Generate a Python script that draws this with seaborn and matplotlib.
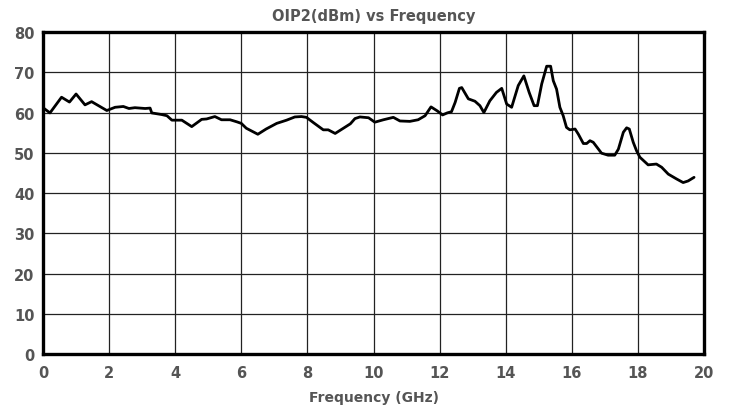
import matplotlib
matplotlib.use("Agg")
import matplotlib.pyplot as plt
import pandas as pd
import seaborn as sns

# Frequency points (GHz)
freq_ghz = [0.0, 0.21, 0.56, 0.80, 1.00, 1.27, 1.47, 1.93, 2.18, 2.43, 2.60, 2.78,
            3.09, 3.24, 3.29, 3.59, 3.75, 3.90, 4.20, 4.50, 4.80, 4.95, 5.20, 5.40,
            5.66, 5.86, 6.00, 6.15, 6.50, 6.75, 7.07, 7.37, 7.62, 7.82, 7.97, 8.18,
            8.48, 8.63, 8.84, 9.09, 9.30, 9.44, 9.59, 9.85, 10.04, 10.30, 10.60, 10.80,
            11.10, 11.35, 11.56, 11.74, 11.93, 12.09, 12.23, 12.36, 12.47, 12.60, 12.67,
            12.87, 13.07, 13.22, 13.34, 13.52, 13.72, 13.88, 14.03, 14.18, 14.38, 14.55,
            14.71, 14.86, 14.96, 15.09, 15.24, 15.36, 15.44, 15.54, 15.64, 15.74, 15.84,
            15.94, 16.10, 16.20, 16.35, 16.45, 16.55, 16.65, 16.90, 17.10, 17.30, 17.41,
            17.56, 17.66, 17.74, 17.86, 17.96, 18.06, 18.31, 18.56, 18.72, 18.92, 19.17,
            19.37, 19.52, 19.70]

# OIP2 values (dBm)
oip2_dbm = [61.2, 59.9, 63.8, 62.6, 64.6, 61.9, 62.7, 60.5, 61.3, 61.5, 61.0, 61.2,
            61.0, 61.1, 59.9, 59.5, 59.2, 58.1, 58.1, 56.5, 58.3, 58.4, 59.0, 58.2,
            58.2, 57.7, 57.3, 56.1, 54.6, 55.9, 57.3, 58.1, 58.9, 59.0, 58.8, 57.5,
            55.7, 55.7, 54.8, 56.1, 57.2, 58.5, 58.9, 58.7, 57.6, 58.2, 58.8, 57.9,
            57.8, 58.2, 59.2, 61.4, 60.4, 59.4, 59.9, 60.2, 62.5, 66.0, 66.2,
            63.4, 62.8, 61.7, 60.0, 62.9, 65.0, 66.0, 62.1, 61.3, 66.7, 69.1,
            65.0, 61.7, 61.7, 67.1, 71.5, 71.5, 67.9, 65.8, 61.3, 59.2, 56.3,
            55.7, 55.9, 54.6, 52.3, 52.3, 53.0, 52.6, 49.9, 49.4, 49.4, 50.9,
            55.1, 56.2, 55.9, 52.6, 50.5, 48.9, 47.0, 47.2, 46.4, 44.7, 43.5,
            42.6, 43.0, 43.9]

x_ticks = [0, 2, 4, 6, 8, 10, 12, 14, 16, 18, 20]
y_ticks = [0, 10, 20, 30, 40, 50, 60, 70, 80]

df = pd.DataFrame({"freq": freq_ghz, "oip2": oip2_dbm})

sns.set_style("white")
plt.rcParams['font.family'] = ['DejaVu Sans']
text_col = "#555555"

fig = plt.figure(figsize=(7.33, 4.10), dpi=100)
ax = fig.add_axes([0.0587, 0.134, 0.9017, 0.7855])

sns.lineplot(data=df, x="freq", y="oip2", color="black", linewidth=2.0, ax=ax, zorder=3)

ax.set_xlim(0, 20)
ax.set_ylim(0, 80)
ax.set_xticks(x_ticks)
ax.set_yticks(y_ticks)
ax.grid(True, color="#222222", linewidth=0.9)
ax.tick_params(length=0, labelsize=10.5, labelcolor=text_col)
ax.tick_params(axis="x", pad=8)
ax.tick_params(axis="y", pad=6)
for lab in ax.get_xticklabels() + ax.get_yticklabels():
    lab.set_fontweight("bold")
for s in ax.spines.values():
    s.set_color("black")
    s.set_linewidth(2.4)

ax.set_xlabel("Frequency (GHz)", fontsize=10, fontweight="bold", color=text_col, labelpad=7)
ax.set_ylabel("")
ax.set_title("OIP2(dBm) vs Frequency", fontsize=10.5, fontweight="bold", color=text_col, pad=9)

plt.savefig("out.png", dpi=100)
